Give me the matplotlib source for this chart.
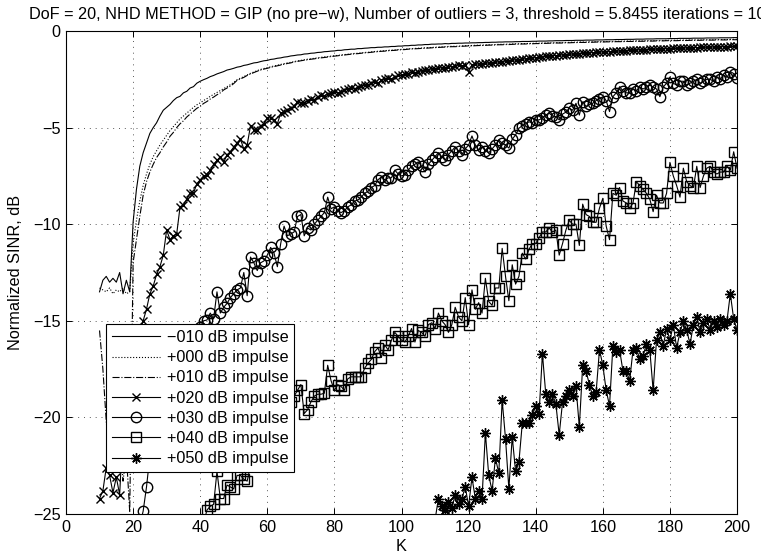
import numpy as np
import matplotlib
matplotlib.use('Agg')
import matplotlib.pyplot as plt

#==========================
# FONTS
#==========================
plt.rcParams['font.family'] = ['Liberation Sans', 'DejaVu Sans']
FS = 11.7
plt.rcParams['font.size'] = FS

#==========================
# DATA
#==========================
K = np.arange(10, 201)        # solid / dotted / dash-dot / x
K_o = np.arange(22, 201)      # circles
K_sq = np.arange(41, 201)     # squares
K_st = np.arange(110, 201)    # stars

labels = ['\u2212010 dB impulse', '+000 dB impulse', '+010 dB impulse',
          '+020 dB impulse', '+030 dB impulse', '+040 dB impulse',
          '+050 dB impulse']

sinr_m10 = [
    -13.5, -12.9, -12.7, -13.0, -12.8, -13.0, -12.5, -13.6, -12.9, -13.5,
    -9.9, -8.2, -7.0, -6.3, -5.8, -5.3, -5.0, -4.75, -4.4, -4.1,
    -3.95, -3.8, -3.6, -3.45, -3.38, -3.2, -3.12, -2.95, -2.88, -2.7,
    -2.6, -2.52, -2.45, -2.36, -2.3, -2.22, -2.16, -2.1, -2.02, -1.98,
    -1.93, -1.87, -1.84, -1.78, -1.75, -1.7, -1.65, -1.63, -1.58, -1.54,
    -1.52, -1.47, -1.45, -1.41, -1.39, -1.35, -1.33, -1.29, -1.27, -1.24,
    -1.23, -1.19, -1.18, -1.15, -1.14, -1.11, -1.1, -1.07, -1.06, -1.04,
    -1.03, -1.0, -1.0, -0.97, -0.96, -0.94, -0.94, -0.91, -0.91, -0.89,
    -0.88, -0.86, -0.86, -0.84, -0.84, -0.82, -0.82, -0.8, -0.8, -0.78,
    -0.78, -0.76, -0.76, -0.74, -0.74, -0.72, -0.72, -0.7, -0.7, -0.68,
    -0.68, -0.67, -0.67, -0.65, -0.66, -0.64, -0.64, -0.63, -0.63, -0.62,
    -0.62, -0.61, -0.61, -0.6, -0.6, -0.59, -0.59, -0.58, -0.58, -0.57,
    -0.57, -0.56, -0.56, -0.56, -0.55, -0.55, -0.54, -0.54, -0.54, -0.53,
    -0.53, -0.52, -0.52, -0.52, -0.51, -0.51, -0.5, -0.5, -0.5, -0.49,
    -0.49, -0.49, -0.48, -0.48, -0.48, -0.47, -0.47, -0.47, -0.46, -0.46,
    -0.46, -0.45, -0.45, -0.45, -0.44, -0.44, -0.44, -0.43, -0.43, -0.43,
    -0.42, -0.42, -0.42, -0.41, -0.41, -0.41, -0.4, -0.4, -0.4, -0.4,
    -0.39, -0.39, -0.39, -0.38, -0.38, -0.38, -0.38, -0.37, -0.37, -0.37,
    -0.37, -0.36, -0.36, -0.36, -0.36, -0.35, -0.35, -0.35, -0.35, -0.34,
    -0.34]

sinr_p00 = [
    -13.3, -13.4, -13.5, -13.3, -13.6, -13.4, -13.5, -13.3, -13.6, -13.5,
    -11.0, -9.8, -8.8, -8.0, -7.4, -6.9, -6.5, -6.2, -5.9, -5.65,
    -5.4, -5.15, -4.95, -4.75, -4.55, -4.4, -4.25, -4.1, -3.95, -3.82,
    -3.72, -3.6, -3.5, -3.38, -3.28, -3.18, -3.08, -2.98, -2.88, -2.78,
    -2.66, -2.52, -2.44, -2.36, -2.27, -2.19, -2.12, -2.05, -1.99, -1.94,
    -1.9, -1.85, -1.81, -1.77, -1.73, -1.69, -1.65, -1.62, -1.58, -1.55,
    -1.52, -1.49, -1.46, -1.44, -1.41, -1.39, -1.36, -1.34, -1.32, -1.3,
    -1.28, -1.26, -1.24, -1.22, -1.2, -1.18, -1.16, -1.15, -1.13, -1.11,
    -1.1, -1.08, -1.06, -1.05, -1.03, -1.02, -1.0, -0.99, -0.98, -0.96,
    -0.95, -0.94, -0.92, -0.91, -0.9, -0.89, -0.88, -0.87, -0.86, -0.85,
    -0.84, -0.83, -0.82, -0.81, -0.8, -0.79, -0.79, -0.78, -0.77, -0.76,
    -0.75, -0.75, -0.74, -0.73, -0.73, -0.72, -0.71, -0.71, -0.7, -0.69,
    -0.69, -0.68, -0.68, -0.67, -0.66, -0.66, -0.65, -0.65, -0.64, -0.64,
    -0.63, -0.63, -0.62, -0.62, -0.61, -0.61, -0.6, -0.6, -0.6, -0.59,
    -0.59, -0.58, -0.58, -0.57, -0.57, -0.57, -0.56, -0.56, -0.55, -0.55,
    -0.55, -0.54, -0.54, -0.54, -0.53, -0.53, -0.53, -0.52, -0.52, -0.52,
    -0.51, -0.51, -0.51, -0.5, -0.5, -0.5, -0.49, -0.49, -0.49, -0.48,
    -0.48, -0.48, -0.48, -0.47, -0.47, -0.47, -0.46, -0.46, -0.46, -0.46,
    -0.45, -0.45, -0.45, -0.45, -0.44, -0.44, -0.44, -0.44, -0.43, -0.43,
    -0.43]

sinr_p10 = [
    -15.5, -17.5, -20.2, -22.4, -21.1, -22.8, -20.6, -23.3, -21.9, -24.9,
    -12.0, -10.8, -9.6, -8.5, -7.8, -7.3, -6.9, -6.55, -6.3, -6.0,
    -5.75, -5.45, -5.25, -5.0, -4.8, -4.65, -4.45, -4.3, -4.15, -4.0,
    -3.9, -3.75, -3.65, -3.52, -3.42, -3.3, -3.2, -3.05, -2.95, -2.85,
    -2.72, -2.55, -2.48, -2.4, -2.3, -2.22, -2.15, -2.08, -2.02, -1.97,
    -1.93, -1.88, -1.84, -1.8, -1.76, -1.72, -1.68, -1.65, -1.6, -1.57,
    -1.54, -1.51, -1.49, -1.46, -1.44, -1.41, -1.39, -1.37, -1.35, -1.32,
    -1.3, -1.28, -1.26, -1.24, -1.22, -1.2, -1.18, -1.17, -1.15, -1.13,
    -1.12, -1.1, -1.08, -1.07, -1.05, -1.04, -1.02, -1.01, -1.0, -0.98,
    -0.97, -0.96, -0.94, -0.93, -0.92, -0.91, -0.9, -0.89, -0.88, -0.87,
    -0.86, -0.85, -0.84, -0.83, -0.82, -0.81, -0.81, -0.8, -0.79, -0.78,
    -0.77, -0.77, -0.76, -0.75, -0.75, -0.74, -0.73, -0.73, -0.72, -0.71,
    -0.71, -0.7, -0.7, -0.69, -0.68, -0.68, -0.67, -0.67, -0.66, -0.66,
    -0.65, -0.65, -0.64, -0.64, -0.63, -0.63, -0.62, -0.62, -0.62, -0.61,
    -0.61, -0.6, -0.6, -0.59, -0.59, -0.59, -0.58, -0.58, -0.57, -0.57,
    -0.57, -0.56, -0.56, -0.56, -0.55, -0.55, -0.55, -0.54, -0.54, -0.54,
    -0.53, -0.53, -0.53, -0.52, -0.52, -0.52, -0.51, -0.51, -0.51, -0.5,
    -0.5, -0.5, -0.5, -0.49, -0.49, -0.49, -0.48, -0.48, -0.48, -0.48,
    -0.47, -0.47, -0.47, -0.47, -0.46, -0.46, -0.46, -0.46, -0.45, -0.45,
    -0.45]

sinr_p20 = [
    -24.2, -23.8, -22.6, -23.0, -23.9, -23.1, -24.0, -20.5, -19.0, -18.0,
    -17.4, -16.5, -15.6, -15.0, -14.4, -13.6, -13.2, -12.6, -12.2, -11.6,
    -10.3, -10.8, -10.6, -10.5, -9.1, -9.0, -8.7, -8.4, -8.4, -7.9,
    -7.7, -7.5, -7.45, -7.2, -6.9, -6.7, -6.5, -6.8, -6.4, -6.25,
    -6.0, -5.8, -5.6, -6.1, -5.9, -4.9, -5.1, -5.1, -4.9, -4.8,
    -4.5, -4.5, -4.6, -4.8, -4.25, -4.17, -4.1, -4.0, -3.9, -3.66,
    -3.74, -3.7, -3.6, -3.5, -3.55, -3.4, -3.3, -3.35, -3.25, -3.2,
    -3.15, -3.2, -3.14, -3.05, -3.0, -2.95, -3.0, -2.9, -2.85, -2.8,
    -2.8, -2.7, -2.65, -2.7, -2.55, -2.5, -2.44, -2.5, -2.4, -2.3,
    -2.3, -2.25, -2.2, -2.1, -2.15, -2.1, -2.05, -2.0, -2.0, -1.95,
    -1.95, -1.93, -1.9, -1.9, -1.85, -1.85, -1.8, -1.76, -1.8, -1.75,
    -2.1, -1.75, -1.7, -1.72, -1.7, -1.68, -1.65, -1.66, -1.62, -1.6,
    -1.58, -1.55, -1.55, -1.5, -1.5, -1.48, -1.45, -1.45, -1.4, -1.4,
    -1.38, -1.36, -1.35, -1.3, -1.3, -1.28, -1.27, -1.25, -1.24, -1.22,
    -1.2, -1.2, -1.18, -1.17, -1.15, -1.15, -1.13, -1.12, -1.1, -1.1,
    -1.08, -1.08, -1.07, -1.05, -1.05, -1.04, -1.02, -1.02, -1.0, -1.0,
    -0.98, -0.98, -0.97, -0.96, -0.95, -0.95, -0.94, -0.93, -0.92, -0.92,
    -0.91, -0.9, -0.9, -0.89, -0.88, -0.88, -0.87, -0.86, -0.86, -0.85,
    -0.85, -0.84, -0.84, -0.83, -0.82, -0.82, -0.81, -0.81, -0.8, -0.8,
    -0.8]

sinr_p30 = [
    -25.6, -24.85, -23.6, -22.0, -21.5, -20.8, -20.0, -19.6,
    -19.0, -18.6, -18.2, -17.8, -17.5, -17.0, -16.6, -16.2, -15.9, -15.5,
    -15.3, -15.0, -14.96, -14.6, -14.9, -13.5, -14.6, -14.3, -14.1, -13.8,
    -13.6, -13.4, -13.3, -12.5, -13.7, -11.7, -12.0, -12.4, -12.0, -11.9,
    -11.6, -11.2, -11.5, -12.2, -11.0, -10.1, -10.6, -10.5, -10.4, -9.6,
    -9.5, -10.6, -10.2, -10.3, -10.0, -9.8, -9.6, -9.4, -8.6, -9.2,
    -9.1, -9.3, -9.4, -9.3, -9.1, -9.0, -8.8, -8.75, -8.6, -8.4,
    -8.3, -8.1, -8.0, -7.7, -7.55, -7.7, -7.6, -7.6, -7.2, -7.4,
    -7.5, -7.45, -7.2, -7.0, -6.9, -6.77, -7.0, -7.3, -6.9, -6.7,
    -6.5, -6.3, -6.5, -6.7, -6.4, -6.2, -6.0, -6.2, -6.4, -6.1,
    -5.9, -5.43, -5.9, -6.16, -6.0, -6.2, -6.3, -6.1, -5.9, -5.64,
    -5.8, -5.9, -6.06, -5.6, -5.38, -5.03, -4.9, -4.8, -4.7, -4.75,
    -4.6, -4.6, -4.5, -4.35, -4.25, -4.4, -4.43, -4.6, -4.3, -4.2,
    -4.0, -4.1, -3.74, -4.35, -3.66, -3.9, -3.8, -3.74, -3.6, -3.5,
    -3.4, -3.6, -4.17, -3.4, -3.2, -2.88, -3.1, -3.2, -3.2, -3.0,
    -3.1, -2.9, -3.0, -2.9, -2.8, -2.9, -3.0, -3.4, -2.9, -2.7,
    -2.38, -2.7, -2.8, -2.6, -2.6, -2.8, -2.7, -2.6, -2.5, -2.7,
    -2.6, -2.5, -2.5, -2.6, -2.4, -2.5, -2.28, -2.4, -2.1, -2.2,
    -2.44]

sinr_p40 = [
    -25.5, -24.8, -24.6, -24.5, -22.8, -24.2, -24.2, -23.5, -23.6,
    -23.7, -23.0, -23.0, -23.2, -23.3, -22.5, -22.3, -22.0, -21.8, -21.5,
    -21.3, -21.0, -20.6, -20.4, -20.0, -19.8, -19.5, -19.2, -18.9, -18.6,
    -18.3, -19.8, -19.6, -19.2, -18.9, -18.8, -18.8, -18.75, -17.3, -18.1,
    -18.6, -18.3, -18.4, -18.6, -18.0, -17.9, -17.9, -17.9, -17.9, -17.46,
    -17.2, -17.0, -16.6, -16.4, -16.9, -16.25, -16.5, -16.0, -15.6, -15.8,
    -16.0, -16.1, -15.8, -15.4, -16.1, -15.5, -15.6, -15.8, -15.2, -15.1,
    -15.4, -14.6, -15.0, -15.2, -15.6, -15.2, -14.3, -14.8, -15.0, -13.8,
    -15.2, -13.4, -14.4, -14.06, -14.6, -12.8, -14.0, -14.2, -13.3, -13.3,
    -11.25, -12.7, -13.96, -12.1, -13.1, -12.7, -11.5, -11.8, -11.3, -11.0,
    -11.0, -10.7, -10.4, -10.4, -10.2, -10.4, -10.3, -11.6, -11.0, -10.3,
    -9.8, -10.0, -10.0, -11.1, -8.96, -9.5, -9.6, -9.9, -9.9, -9.17,
    -8.66, -10.1, -10.8, -8.4, -8.5, -8.1, -8.8, -8.9, -9.17, -8.9,
    -7.8, -8.0, -8.2, -8.4, -8.7, -9.35, -8.5, -8.9, -8.9, -8.4,
    -6.8, -7.5, -8.0, -8.6, -7.1, -7.8, -8.0, -8.1, -7.0, -8.1,
    -7.5, -7.1, -7.0, -7.3, -7.4, -7.3, -7.3, -7.0, -7.2, -6.25,
    -7.1]

sinr_p50 = [
    -25.3, -24.2, -24.6, -24.8, -24.4, -24.7, -24.0, -24.5, -24.2, -23.6,
    -24.6, -23.1, -24.2, -23.8, -24.2, -20.8, -23.0, -23.8, -22.1, -22.9,
    -19.1, -21.1, -23.7, -21.0, -22.8, -22.3, -20.3, -20.3, -20.3, -19.9,
    -19.4, -19.8, -16.7, -18.8, -19.2, -18.8, -19.3, -20.9, -19.2, -18.9,
    -18.6, -18.9, -18.4, -20.5, -17.3, -17.6, -18.3, -18.9, -18.7, -16.5,
    -17.3, -18.6, -19.4, -16.3, -16.6, -16.5, -17.6, -17.6, -18.1, -16.5,
    -16.4, -17.0, -16.8, -16.2, -16.5, -18.6, -16.0, -15.6, -16.3, -15.4,
    -16.0, -15.2, -16.4, -15.6, -15.0, -15.5, -16.2, -15.2, -14.8, -15.6,
    -15.1, -14.9, -15.5, -15.0, -15.3, -14.9, -15.2, -15.0, -13.6, -14.9,
    -15.5]

#==========================
# PLOT
#==========================
fig = plt.figure(figsize=(7.61, 5.57), dpi=100)
ax = fig.add_axes([0.0867, 0.0772, 0.8818, 0.8671])

lw = 0.8
ax.plot(K, sinr_m10, color='k', ls='-', lw=lw, label=labels[0])
ax.plot(K, sinr_p00, color='k', ls=':', lw=lw, label=labels[1])
ax.plot(K, sinr_p10, color='k', ls='-.', lw=lw, label=labels[2])
ax.plot(K, sinr_p20, color='k', ls='-', lw=lw, marker='x', ms=6, mew=1.0,
        label=labels[3])
ax.plot(K_o, sinr_p30, color='k', ls='-', lw=lw, marker='o', ms=7.5, mew=1.0,
        mfc='none', label=labels[4])
ax.plot(K_sq, sinr_p40, color='k', ls='-', lw=lw, marker='s', ms=6.5, mew=1.0,
        mfc='none', label=labels[5])
ax.plot(K_st, sinr_p50, color='k', ls='-', lw=lw, marker=(8, 2, 0), ms=7.5,
        mew=1.0, label=labels[6])

ax.set_xlim(0, 200)
ax.set_ylim(-25, 0)
ax.set_xticks(np.arange(0, 201, 20))
ax.set_yticks(np.arange(-25, 1, 5))
ax.tick_params(direction='in', top=True, right=True, length=4.5, width=0.7,
               labelsize=FS, pad=4)
for s in ax.spines.values():
    s.set_linewidth(0.8)
ax.grid(True, color='0.35', ls=(0, (1, 5)), lw=0.7)

ax.set_xlabel('K', fontsize=FS, labelpad=3)
ax.set_ylabel('Normalized SINR, dB', fontsize=FS, labelpad=7)
ax.set_title('DoF = 20, NHD METHOD = GIP (no pre\u2212w), Number of outliers = 3, '
             'threshold = 5.8455 iterations = 100', fontsize=FS, pad=9)

leg = ax.legend(loc='lower left', bbox_to_anchor=(0.0596, 0.087),
                borderaxespad=0, fancybox=False, framealpha=1,
                edgecolor='k', fontsize=FS, handlelength=3.0,
                handletextpad=0.4, labelspacing=0.32, borderpad=0.35)
leg.get_frame().set_linewidth(0.8)

fig.savefig('out.png', dpi=100)
